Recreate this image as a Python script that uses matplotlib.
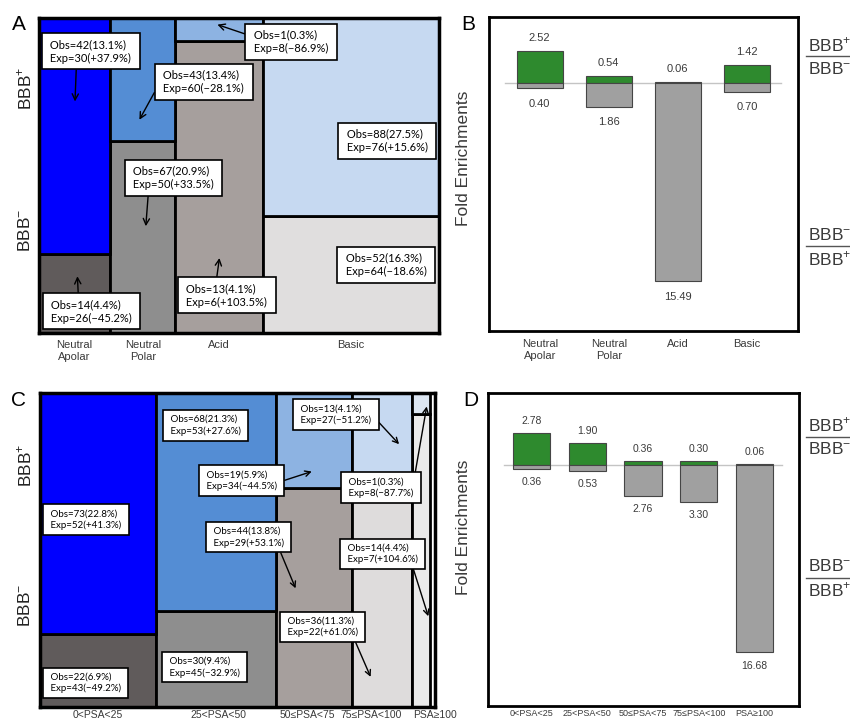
import numpy as np
import matplotlib
matplotlib.use('Agg')
import matplotlib.pyplot as plt
from matplotlib.lines import Line2D

plt.rcParams['font.family'] = ['Liberation Sans', 'DejaVu Sans']
plt.rcParams['mathtext.fontset'] = 'custom'
plt.rcParams['mathtext.rm'] = 'Liberation Sans'

# ---- amino acid classes (panels A and B) ----
aa_classes = ['Neutral\nApolar', 'Neutral\nPolar', 'Acid', 'Basic']
aa_width = [57, 52, 70, 141]          # column widths of the mosaic
aa_pos_obs = [42, 43, 1, 88]
aa_pos_pct = [13.1, 13.4, 0.3, 27.5]
aa_pos_exp = [30, 60, 8, 76]
aa_pos_chg = [37.9, -28.1, -86.9, 15.6]
aa_neg_obs = [14, 67, 13, 52]
aa_neg_pct = [4.4, 20.9, 4.1, 16.3]
aa_neg_exp = [26, 50, 6, 64]
aa_neg_chg = [-45.2, 33.5, 103.5, -18.6]
aa_fold_pos = [2.52, 0.54, 0.06, 1.42]
aa_fold_neg = [0.40, 1.86, 15.49, 0.70]

# ---- polar surface area bins (panels C and D) ----
psa_bins = ['0<PSA<25', '25<PSA<50', '50\u2264PSA<75', '75\u2264PSA<100', 'PSA\u2265100']
psa_pos_obs = [73, 68, 19, 13, 1]
psa_pos_pct = [22.8, 21.3, 5.9, 4.1, 0.3]
psa_pos_exp = [52, 53, 34, 27, 8]
psa_pos_chg = [41.3, 27.6, -44.5, -51.2, -87.7]
psa_neg_obs = [22, 30, 44, 36, 14]
psa_neg_pct = [6.9, 9.4, 13.8, 11.3, 4.4]
psa_neg_exp = [43, 45, 29, 22, 7]
psa_neg_chg = [-49.2, -32.9, 53.1, 61.0, 104.6]
psa_fold_pos = [2.78, 1.90, 0.36, 0.30, 0.06]
psa_fold_neg = [0.36, 0.53, 2.76, 3.30, 16.68]

TXT = '#3a3a3a'
BOXFONT = ['Lato', 'DejaVu Sans']

fig = plt.figure(figsize=(8.5, 7.22), dpi=100)


def px_axes(l, t, r, b):
    return fig.add_axes([l / 850, 1 - b / 722, (r - l) / 850, (b - t) / 722])


def box_text(obs, pct, exp, chg):
    s = ' Obs=%d(%.1f%%) \n Exp=%d(%+.1f%%) ' % (obs, pct, exp, chg)
    return s.replace('-', '\u2212')


def mosaic(ax, widths, pos, neg, c_pos, c_neg, labels, shift, lab_size, pad):
    widths = np.asarray(widths, float)
    left = np.concatenate([[0], np.cumsum(widths)[:-1]])
    share = np.asarray(pos) / (np.asarray(pos) + np.asarray(neg))
    ax.bar(left, 1 - share, width=widths, align='edge', color=c_neg,
           edgecolor='black', linewidth=2)
    ax.bar(left, share, bottom=1 - share, width=widths, align='edge',
           color=c_pos, edgecolor='black', linewidth=2)
    ax.set_xlim(0, widths.sum())
    ax.set_ylim(0, 1)
    ax.set_yticks([])
    ax.set_xticks(left + widths / 2 + np.asarray(shift) * widths.sum(), labels)
    ax.tick_params(axis='x', length=0, pad=pad, labelsize=lab_size, labelcolor=TXT)
    for s in ax.spines.values():
        s.set_linewidth(2.5)


def add_boxes(ax, items, texts, size):
    for key, center, head, rel in items:
        kw = dict(xycoords='axes fraction', textcoords='axes fraction',
                  ha='center', va='center', fontsize=size, family=BOXFONT,
                  multialignment='left', linespacing=1.3, zorder=5,
                  bbox=dict(boxstyle='square,pad=0.5', fc='white', ec='black', lw=1.2))
        if head is None:
            ax.annotate(texts[key], xy=center, xytext=center, **kw)
        else:
            ax.annotate(texts[key], xy=head, xytext=center,
                        arrowprops=dict(arrowstyle='->,head_length=0.55,head_width=0.28',
                                        color='black', lw=1, relpos=rel,
                                        shrinkA=0, shrinkB=0), **kw)


def fold(ax, up, down, labels, lab_size, val_size, off_up, off_dn, pad):
    x = np.arange(len(up))
    up = np.asarray(up)
    down = np.asarray(down)
    ax.plot([-0.5, len(up) - 0.5], [0, 0], color='#c4c4c4', lw=1, zorder=1)
    ax.bar(x, up, width=0.67, color='#2e8a2e', edgecolor='#454545', lw=0.8, zorder=2)
    ax.bar(x, -down, width=0.67, color='#a0a0a0', edgecolor='#454545', lw=0.8, zorder=2)
    for xi, u, d in zip(x, up, down):
        ax.annotate('%.2f' % u, (xi, u), xytext=(0, off_up), textcoords='offset points',
                    ha='center', va='center', fontsize=val_size, color=TXT)
        ax.annotate('%.2f' % d, (xi, -d), xytext=(0, -off_dn), textcoords='offset points',
                    ha='center', va='center', fontsize=val_size, color=TXT)
    ax.set_yticks([])
    ax.set_xticks(x, labels)
    ax.tick_params(axis='x', length=0, pad=pad, labelsize=lab_size, labelcolor=TXT)
    ax.set_ylabel('Fold Enrichments', fontsize=12.5, color=TXT)
    for s in ax.spines.values():
        s.set_linewidth(2)


def fraction(top, bottom, y_top, y_line, y_bot):
    fig.text(808 / 850, 1 - y_top / 722, top, fontsize=12.5, color=TXT, ha='left', va='center')
    fig.text(808 / 850, 1 - y_bot / 722, bottom, fontsize=12.5, color=TXT, ha='left', va='center')
    fig.add_artist(Line2D([806 / 850, 1.0], [1 - y_line / 722] * 2,
                          transform=fig.transFigure, color='#555555', lw=1))


PLUS = 'BBB$^{+}$'
MINUS = 'BBB$^{\u2212}$'

# ---------------- A ----------------
axA = px_axes(39, 18, 439, 333)
mosaic(axA, aa_width, aa_pos_obs, aa_neg_obs,
       ['#0000ff', '#548dd4', '#8db3e2', '#c6d9f1'],
       ['#605b5b', '#8e8e8e', '#a69f9d', '#e0dede'],
       aa_classes, [0, 0, 0, 0], 8, 5)
txtA = {}
for i in range(4):
    txtA['p%d' % i] = box_text(aa_pos_obs[i], aa_pos_pct[i], aa_pos_exp[i], aa_pos_chg[i])
    txtA['n%d' % i] = box_text(aa_neg_obs[i], aa_neg_pct[i], aa_neg_exp[i], aa_neg_chg[i])
add_boxes(axA, [
    ('p0', (0.129, 0.894), (0.090, 0.735), (0.337, 0)),
    ('p1', (0.412, 0.798), (0.251, 0.677), (0, 0.51)),
    ('p2', (0.630, 0.925), (0.446, 0.979), (0, 0.73)),
    ('p3', (0.870, 0.610), None, None),
    ('n1', (0.336, 0.492), (0.267, 0.339), (0.213, 0)),
    ('n3', (0.868, 0.216), None, None),
    ('n2', (0.469, 0.120), (0.451, 0.238), (0.378, 1)),
    ('n0', (0.131, 0.069), (0.096, 0.180), (0.351, 1)),
], txtA, 8)

# ---------------- B ----------------
axB = px_axes(489, 17, 798, 331)
fold(axB, aa_fold_pos, aa_fold_neg, aa_classes, 8, 8, 9.5, 11, 6)
axB.set_xlim(-0.734, 3.739)
axB.set_ylim(-19.37, 5.17)
axB.yaxis.set_label_coords(-0.058, 0.551)

# ---------------- C ----------------
axC = px_axes(40, 393, 435, 707)
mosaic(axC, [p + n for p, n in zip(psa_pos_obs, psa_neg_obs)], psa_pos_obs, psa_neg_obs,
       ['#0000ff', '#548dd4', '#8db3e2', '#c6d9f1', '#dce6f2'],
       ['#605b5b', '#8e8e8e', '#a69f9d', '#dedcdc', '#ebebeb'],
       psa_bins, [0, 0.007, -0.018, -0.028, 0.035], 7.5, 2)
txtC = {}
for i in range(5):
    txtC['p%d' % i] = box_text(psa_pos_obs[i], psa_pos_pct[i], psa_pos_exp[i], psa_pos_chg[i])
    txtC['n%d' % i] = box_text(psa_neg_obs[i], psa_neg_pct[i], psa_neg_exp[i], psa_neg_chg[i])
add_boxes(axC, [
    ('p1', (0.419, 0.897), None, None),
    ('p3', (0.749, 0.931), (0.909, 0.837), (1, 0.4)),
    ('p2', (0.510, 0.721), (0.688, 0.750), (1, 0.43)),
    ('p4', (0.863, 0.699), (0.979, 0.957), (0.98, 1)),
    ('p0', (0.117, 0.597), None, None),
    ('n2', (0.528, 0.541), (0.647, 0.378), (0.897, 0)),
    ('n4', (0.868, 0.487), (0.983, 0.289), (0.885, 0)),
    ('n3', (0.716, 0.255), (0.837, 0.096), (0.905, 0)),
    ('n1', (0.416, 0.127), None, None),
    ('n0', (0.115, 0.077), None, None),
], txtC, 7)

# ---------------- D ----------------
axD = px_axes(488, 393, 799, 706)
fold(axD, psa_fold_pos, psa_fold_neg, psa_bins, 6.5, 7.5, 8.5, 9.5, 2.5)
axD.set_xlim(-0.784, 4.80)
axD.set_ylim(-21.45, 6.36)
axD.yaxis.set_label_coords(-0.055, 0.572)

# side labels
for y in (88, 465):
    fig.text(25 / 850, 1 - y / 722, PLUS, rotation=90, fontsize=12.5, color='#222222',
             ha='center', va='center')
for y in (230, 605):
    fig.text(25 / 850, 1 - y / 722, MINUS, rotation=90, fontsize=12.5, color='#222222',
             ha='center', va='center')

fraction(PLUS, MINUS, 45, 56, 69)
fraction(MINUS, PLUS, 235, 246, 259)
fraction(PLUS, MINUS, 425, 437, 449)
fraction(MINUS, PLUS, 566, 578, 590)

# panel letters
for letter, x, y in [('A', 19, 25), ('B', 468, 24), ('C', 19, 401), ('D', 471, 401)]:
    fig.text(x / 850, 1 - y / 722, letter, fontsize=15, ha='center', va='center')

fig.savefig('out.png', dpi=100)
